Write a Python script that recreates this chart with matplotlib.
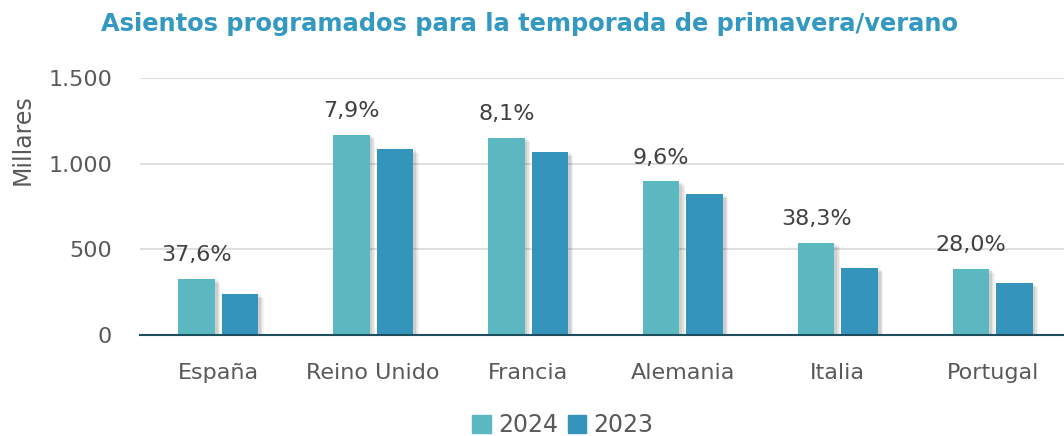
import numpy as np
import matplotlib.pyplot as plt
import matplotlib.patheffects as pe
from matplotlib.patches import Patch
from matplotlib.ticker import FuncFormatter

paises = ['España', 'Reino Unido', 'Francia', 'Alemania', 'Italia', 'Portugal']
asientos_2024 = [328, 1170, 1152, 896, 538, 387]
asientos_2023 = [240, 1085, 1068, 822, 390, 303]
variacion = ['37,6%', '7,9%', '8,1%', '9,6%', '38,3%', '28,0%']

c2024 = '#5bb8c1'
c2023 = '#3594bb'
gris = '#595959'

plt.rcParams['font.family'] = ['DejaVu Sans']

fig = plt.figure(figsize=(10.64, 4.36), dpi=100)
ax = fig.add_axes([0.1316, 0.2317, 0.8684, 0.5894])

x = np.arange(len(paises))
w = 0.235
# sombra suave, varias capas
sombra = [pe.SimplePatchShadow(offset=(3, -2), shadow_rgbFace='#000000', alpha=0.07),
          pe.SimplePatchShadow(offset=(2, -1), shadow_rgbFace='#000000', alpha=0.08),
          pe.SimplePatchShadow(offset=(4, -3), shadow_rgbFace='#000000', alpha=0.05),
          pe.Normal()]
ax.bar(x - 0.14, asientos_2024, w, color=c2024, zorder=3, path_effects=sombra)
ax.bar(x + 0.14, asientos_2023, w, color=c2023, zorder=3, path_effects=sombra)

for xi, v, t in zip(x, asientos_2024, variacion):
    ax.text(xi - 0.14, v + 80, t, ha='center', va='bottom', fontsize=16, color='#404040')

ax.set_xlim(-0.505, 5.46)
ax.set_ylim(0, 1500)
ax.set_yticks([0, 500, 1000, 1500])
ax.yaxis.set_major_formatter(FuncFormatter(lambda v, p: f'{int(v):,}'.replace(',', '.')))
ax.set_xticks(x)
ax.set_xticklabels(paises)
ax.tick_params(axis='both', length=0, labelsize=16, labelcolor=gris)
ax.tick_params(axis='x', pad=20)
ax.tick_params(axis='y', pad=20)
ax.grid(axis='y', color='#d9d9d9', linewidth=1.2, zorder=0)
for s in ['top', 'right', 'left']:
    ax.spines[s].set_visible(False)
ax.spines['bottom'].set_color('#1f4e5f')
ax.spines['bottom'].set_linewidth(1.5)
ax.spines['bottom'].set_zorder(4)

fig.text(0.021, 0.679, 'Millares', rotation=90, ha='center', va='center', fontsize=17, color=gris)
fig.text(0.498, 0.945, 'Asientos programados para la temporada de primavera/verano',
         ha='center', va='center', fontsize=17.4, fontweight='bold', color='#3399c0')

handles = [Patch(color=c2024), Patch(color=c2023)]
fig.legend(handles=handles, labels=['2024', '2023'], loc='center', bbox_to_anchor=(0.529, 0.025),
           ncol=2, frameon=False, fontsize=17, labelcolor=gris, handlelength=0.8, handleheight=0.8,
           handletextpad=0.3, columnspacing=0.4)

fig.savefig('out.png', dpi=100)
